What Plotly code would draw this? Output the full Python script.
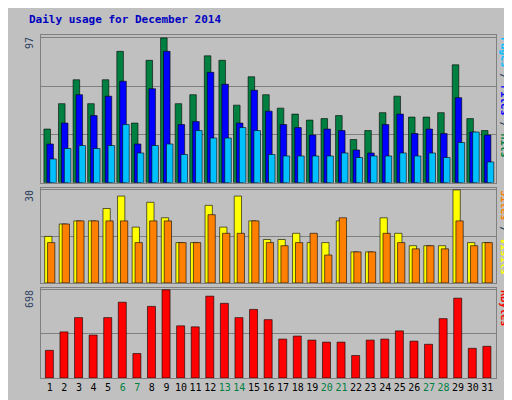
import plotly.graph_objects as go
from plotly.subplots import make_subplots

days = list(range(1, 32))
weekends = [6, 7, 13, 14, 20, 21, 27, 28]

hits = [36, 53, 69, 53, 69, 88, 40, 82, 97, 53, 59, 85, 82, 52, 71, 59, 50, 46, 42, 43,
        45, 29, 35, 47, 58, 44, 44, 47, 79, 43, 35]
files = [26, 40, 59, 45, 58, 68, 26, 63, 88, 39, 41, 74, 66, 40, 62, 48, 39, 37, 32, 36,
         35, 22, 20, 39, 46, 33, 36, 33, 57, 34, 32]
pages = [16, 23, 25, 23, 25, 39, 20, 25, 26, 19, 35, 30, 30, 37, 35, 19, 18, 18, 18, 18,
         20, 17, 18, 18, 20, 18, 20, 17, 27, 34, 14]
visits = [15, 19, 20, 20, 24, 28, 18, 26, 21, 13, 13, 25, 18, 28, 20, 14, 14, 16, 13, 13,
          20, 10, 10, 21, 16, 12, 12, 12, 30, 13, 13]
sites = [13, 19, 20, 20, 20, 20, 13, 20, 20, 13, 13, 22, 16, 16, 20, 13, 12, 13, 16, 9,
         21, 10, 10, 16, 13, 11, 12, 11, 20, 12, 13]
kbytes = [219, 365, 478, 340, 478, 600, 194, 567, 698, 413, 405, 648, 591, 478, 543, 462,
          308, 332, 300, 284, 284, 178, 300, 308, 373, 292, 267, 470, 632, 235, 251]

tick_text = ['<span style="color:#008040">%d</span>' % d if d in weekends else str(d)
             for d in days]

fig = make_subplots(rows=3, cols=1, shared_xaxes=True, vertical_spacing=0.015,
                    row_heights=[148, 95, 90])

bar_line = dict(color="black", width=0.6)
fig.add_trace(go.Bar(x=days, y=hits, width=0.45, offset=-0.4,
                     marker=dict(color="#008040", line=bar_line)), row=1, col=1)
fig.add_trace(go.Bar(x=days, y=files, width=0.45, offset=-0.2,
                     marker=dict(color="#0000FF", line=bar_line)), row=1, col=1)
fig.add_trace(go.Bar(x=days, y=pages, width=0.45, offset=0.0,
                     marker=dict(color="#00C0FF", line=bar_line)), row=1, col=1)
fig.add_trace(go.Bar(x=days, y=visits, width=0.5, offset=-0.35,
                     marker=dict(color="#FFFF00", line=bar_line)), row=2, col=1)
fig.add_trace(go.Bar(x=days, y=sites, width=0.5, offset=-0.15,
                     marker=dict(color="#FF8000", line=bar_line)), row=2, col=1)
fig.add_trace(go.Bar(x=days, y=kbytes, width=0.55, offset=-0.3,
                     marker=dict(color="#FF0000", line=bar_line)), row=3, col=1)

maxes = [max(hits), max(visits), max(kbytes)]
for r, m in zip([1, 2, 3], maxes):
    fig.update_yaxes(row=r, col=1, range=[0, m * 1.02], showticklabels=False,
                     showgrid=True, gridcolor="#808080", gridwidth=1,
                     dtick=m / 3 if r == 1 else m / 2,
                     showline=True, linecolor="#808080", mirror=True, zeroline=False)
for r in [1, 2, 3]:
    fig.update_xaxes(row=r, col=1, range=[0.4, 31.6], showgrid=False,
                     showline=True, linecolor="#808080", mirror=True)
fig.update_xaxes(row=3, col=1, tickvals=days, ticktext=tick_text, ticks="", tickangle=0,
                 tickfont=dict(family="DejaVu Sans Mono", size=10, color="black"))

fig.update_layout(
    width=512, height=400, showlegend=False, barmode="overlay",
    paper_bgcolor="#C0C0C0", plot_bgcolor="#C0C0C0",
    margin=dict(l=33, r=24, t=27, b=30),
    font=dict(family="DejaVu Sans Mono", size=10),
)

mono = dict(family="DejaVu Sans Mono", size=10)
fig.add_annotation(text="<b>Daily usage for December 2014</b>", xref="paper", yref="paper",
                   x=-0.03, y=1.07, xanchor="left", yanchor="top", showarrow=False,
                   font=dict(family="DejaVu Sans Mono", size=11, color="#0000C0"))

labels = [
    ('<span style="color:#00C0FF">Pages</span> / <span style="color:#0000FF">Files</span>'
     ' / <span style="color:#008040">Hits</span>', "y"),
    ('<span style="color:#FF8000">Sites</span> / <span style="color:#FFFF00">Visits</span>', "y2"),
    ('<span style="color:#FF0000">KBytes</span>', "y3"),
]
for txt, ya in labels:
    fig.add_annotation(text="<b>" + txt + "</b>", xref="paper", yref=ya + " domain",
                       x=1.003, y=1, xanchor="left", yanchor="top", textangle=90,
                       showarrow=False, font=mono)
for ya, m in zip(["y", "y2", "y3"], maxes):
    fig.add_annotation(text=str(m), xref="paper", yref=ya + " domain", x=-0.01, y=1,
                       xanchor="right", yanchor="top", textangle=-90,
                       showarrow=False, font=mono)

fig.write_html("out.html")
